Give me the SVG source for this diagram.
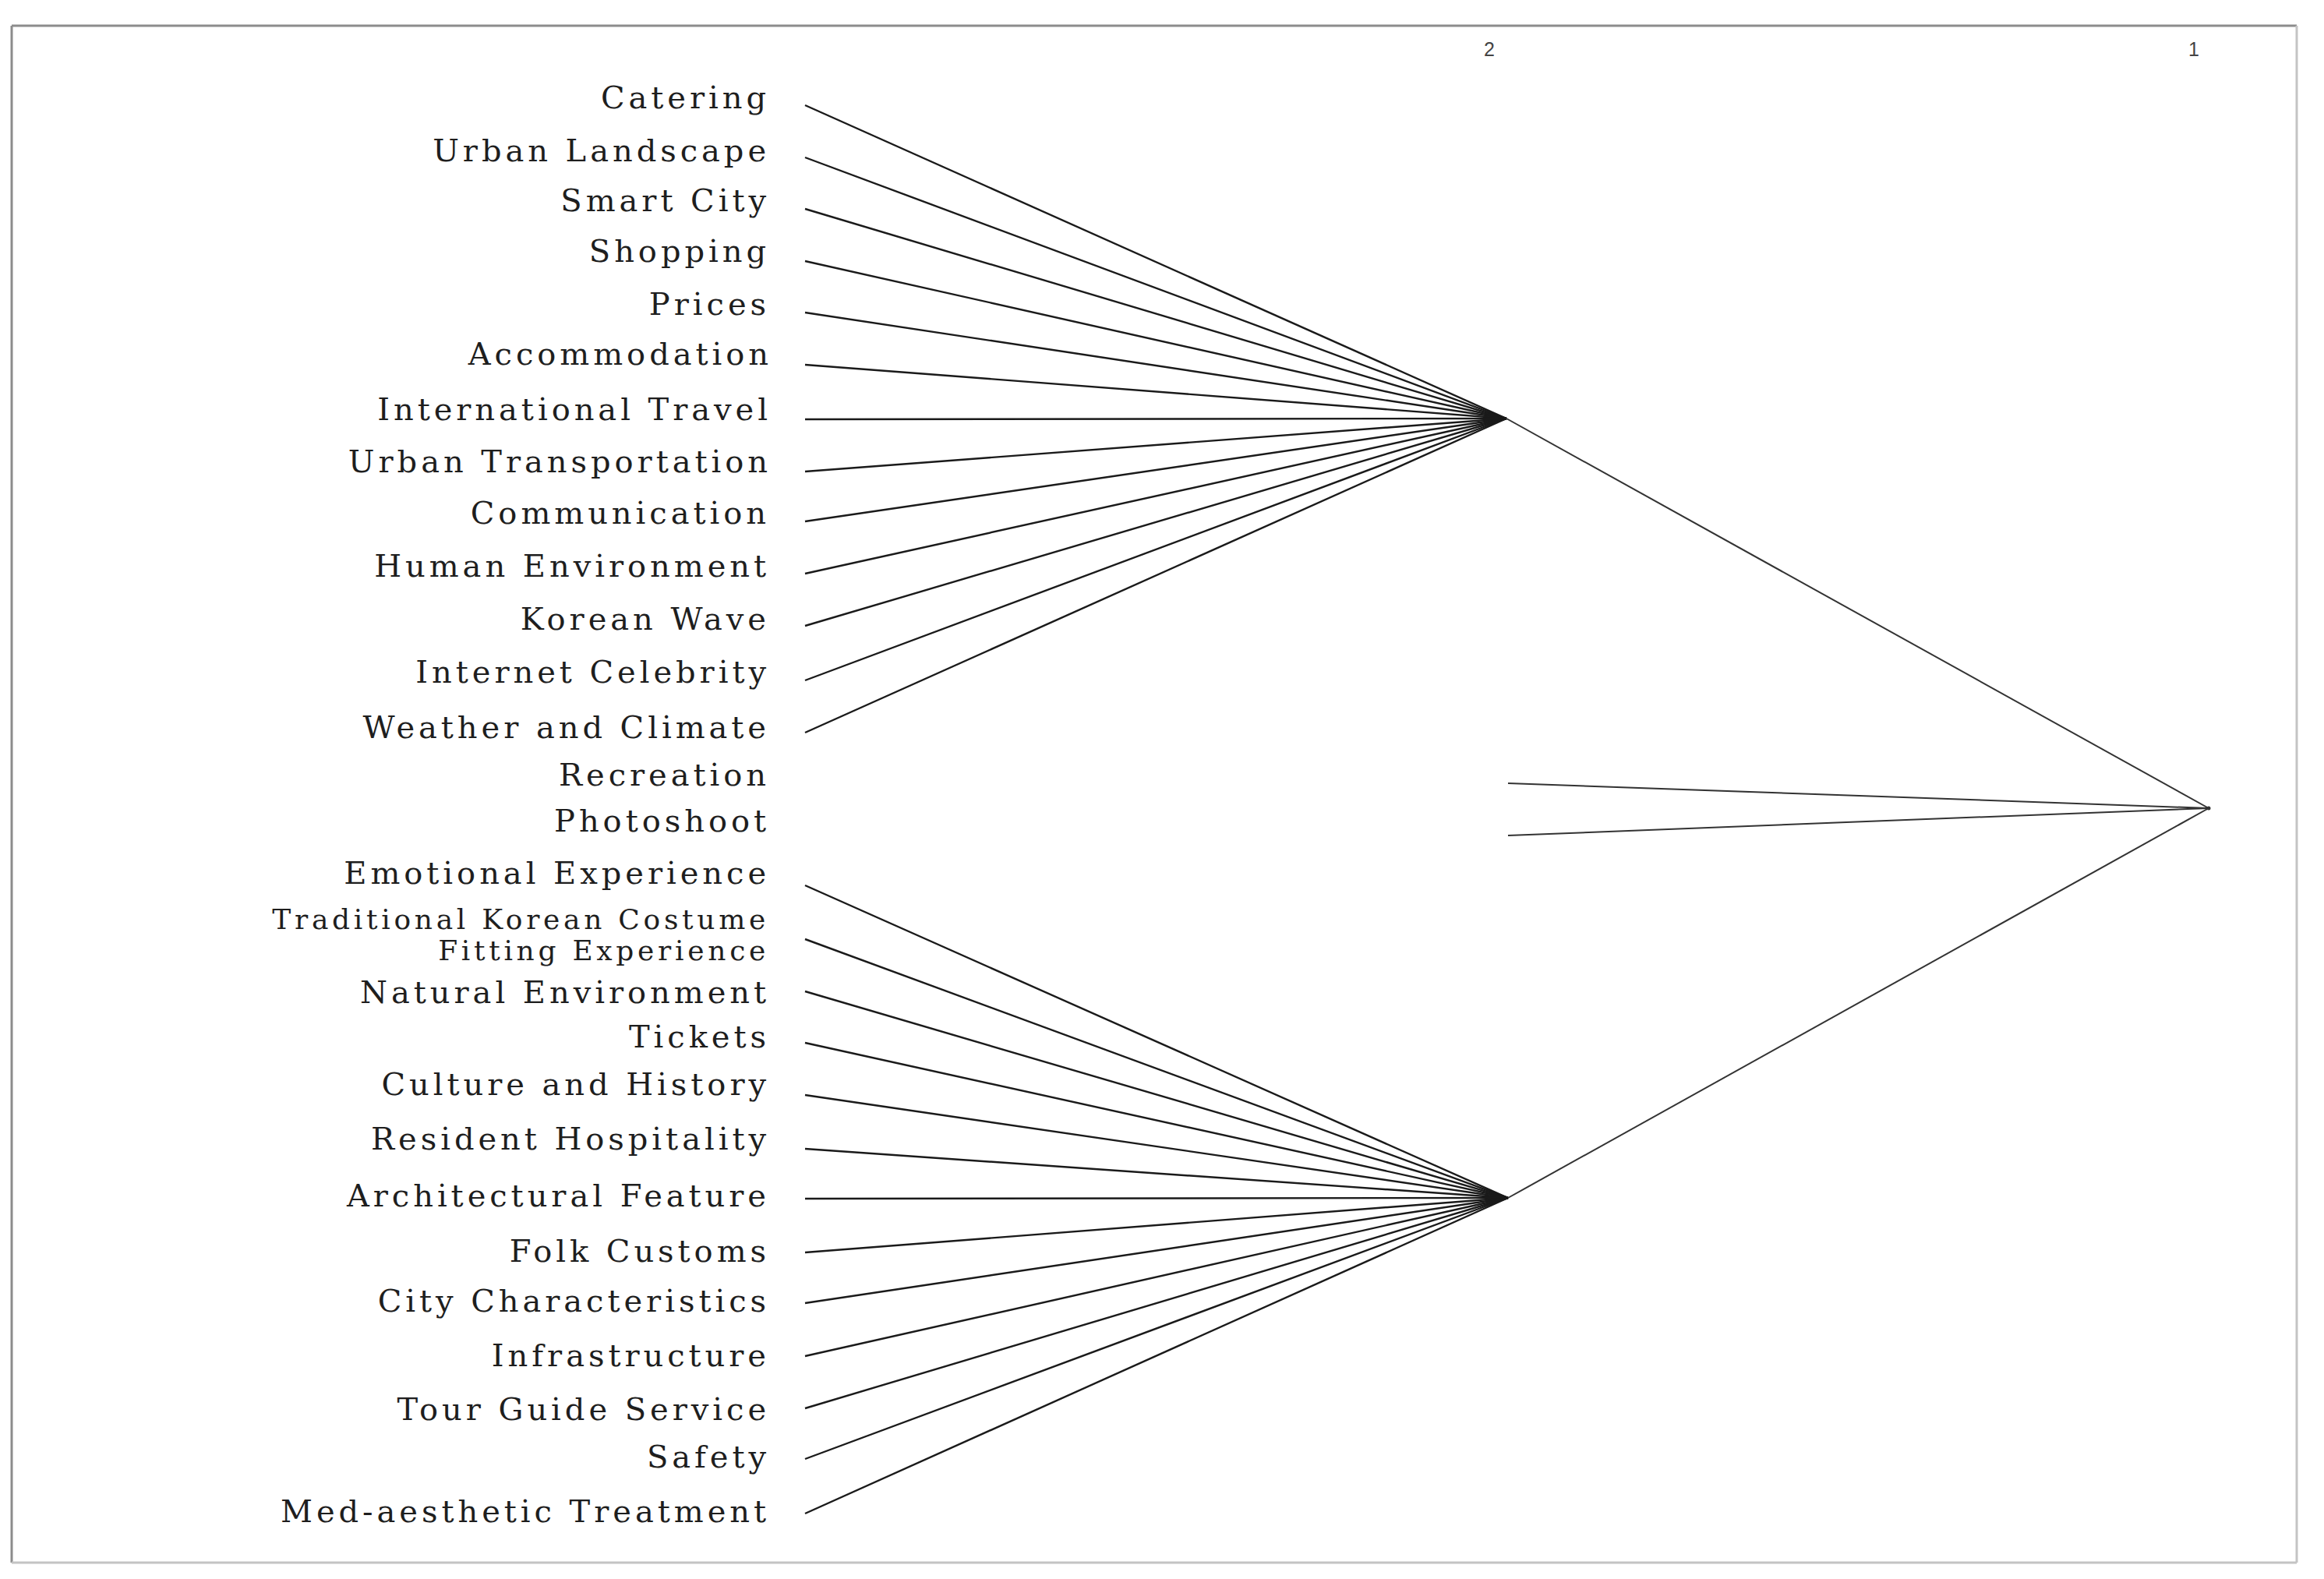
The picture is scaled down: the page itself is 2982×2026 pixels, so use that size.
<svg xmlns="http://www.w3.org/2000/svg" width="2982" height="2026" viewBox="0 0 2982 2026">
<style>
.lbl{font-family:"DejaVu Serif","Liberation Serif",serif;font-size:40px;letter-spacing:4.95px;fill:#1e1e1e;text-anchor:end}
.sm{font-size:36px;letter-spacing:4.7px}
.num{font-family:"Liberation Sans",Arial,sans-serif;font-size:25px;fill:#444;text-anchor:middle}
.leaf{stroke:#1a1a1a;stroke-width:2.4;fill:none}
.trunk{stroke:#333;stroke-width:2;fill:none}
</style>
<rect width="2982" height="2026" fill="#fff"/>
<g id="frame">
<line x1="15" y1="33" x2="2947" y2="33" stroke="#8c8c8c" stroke-width="3"/>
<line x1="15" y1="33" x2="15" y2="2005" stroke="#8c8c8c" stroke-width="3"/>
<line x1="2947" y1="33" x2="2947" y2="2005" stroke="#c4c4c4" stroke-width="3"/>
<line x1="15" y1="2005" x2="2947" y2="2005" stroke="#c4c4c4" stroke-width="3"/>
</g>
<g id="axis">
<text class="num" x="1911" y="72">2</text>
<text class="num" x="2815" y="72">1</text>
</g>
<g id="connectors">
<g class="leaf">
<line x1="1033" y1="135" x2="1933" y2="537"/>
<line x1="1033" y1="202" x2="1933" y2="537"/>
<line x1="1033" y1="268" x2="1933" y2="537"/>
<line x1="1033" y1="335" x2="1933" y2="537"/>
<line x1="1033" y1="401" x2="1933" y2="537"/>
<line x1="1033" y1="468" x2="1933" y2="537"/>
<line x1="1033" y1="538" x2="1933" y2="537"/>
<line x1="1033" y1="605" x2="1933" y2="537"/>
<line x1="1033" y1="669" x2="1933" y2="537"/>
<line x1="1033" y1="736" x2="1933" y2="537"/>
<line x1="1033" y1="803" x2="1933" y2="537"/>
<line x1="1033" y1="873" x2="1933" y2="537"/>
<line x1="1033" y1="940" x2="1933" y2="537"/>
<line x1="1033" y1="1136" x2="1935" y2="1537"/>
<line x1="1033" y1="1205" x2="1935" y2="1537"/>
<line x1="1033" y1="1272" x2="1935" y2="1537"/>
<line x1="1033" y1="1338" x2="1935" y2="1537"/>
<line x1="1033" y1="1405" x2="1935" y2="1537"/>
<line x1="1033" y1="1474" x2="1935" y2="1537"/>
<line x1="1033" y1="1538" x2="1935" y2="1537"/>
<line x1="1033" y1="1607" x2="1935" y2="1537"/>
<line x1="1033" y1="1672" x2="1935" y2="1537"/>
<line x1="1033" y1="1740" x2="1935" y2="1537"/>
<line x1="1033" y1="1807" x2="1935" y2="1537"/>
<line x1="1033" y1="1872" x2="1935" y2="1537"/>
<line x1="1033" y1="1942" x2="1935" y2="1537"/>
</g>
<g class="trunk">
<line x1="1933" y1="537" x2="2834" y2="1037"/>
<line x1="1935" y1="1537" x2="2834" y2="1037"/>
<line x1="1935" y1="1005" x2="2834" y2="1037"/>
<line x1="1935" y1="1072" x2="2834" y2="1037"/>
</g>
</g>
<g id="node-cluster-a"><circle cx="1933" cy="537" r="0.1" fill="none"/></g>
<g id="node-cluster-b"><circle cx="1935" cy="1537" r="0.1" fill="none"/></g>
<g id="node-root"><circle cx="2834" cy="1037" r="2.5" fill="#333"/></g>
<g id="n-catering"><text class="lbl" x="988" y="139">Catering</text></g>
<g id="n-urban-landscape"><text class="lbl" x="988" y="207">Urban Landscape</text></g>
<g id="n-smart-city"><text class="lbl" x="988" y="271">Smart City</text></g>
<g id="n-shopping"><text class="lbl" x="988" y="336">Shopping</text></g>
<g id="n-prices"><text class="lbl" x="988" y="404">Prices</text></g>
<g id="n-accommodation"><text class="lbl" x="991" y="468">Accommodation</text></g>
<g id="n-international-travel"><text class="lbl" x="990" y="539">International Travel</text></g>
<g id="n-urban-transportation"><text class="lbl" x="990" y="606">Urban Transportation</text></g>
<g id="n-communication"><text class="lbl" x="988" y="672">Communication</text></g>
<g id="n-human-environment"><text class="lbl" x="988" y="740">Human Environment</text></g>
<g id="n-korean-wave"><text class="lbl" x="988" y="808">Korean Wave</text></g>
<g id="n-internet-celebrity"><text class="lbl" x="988" y="876">Internet Celebrity</text></g>
<g id="n-weather-climate"><text class="lbl" x="988" y="947">Weather and Climate</text></g>
<g id="n-recreation"><text class="lbl" x="988" y="1008">Recreation</text></g>
<g id="n-photoshoot"><text class="lbl" x="988" y="1067">Photoshoot</text></g>
<g id="n-emotional-experience"><text class="lbl" x="988" y="1134">Emotional Experience</text></g>
<g id="n-traditional-costume"><text class="lbl sm" x="987" y="1192">Traditional Korean Costume</text><text class="lbl sm" x="987" y="1232">Fitting Experience</text></g>
<g id="n-natural-environment"><text class="lbl" x="988" y="1287">Natural Environment</text></g>
<g id="n-tickets"><text class="lbl" x="988" y="1344">Tickets</text></g>
<g id="n-culture-history"><text class="lbl" x="988" y="1405">Culture and History</text></g>
<g id="n-resident-hospitality"><text class="lbl" x="988" y="1475">Resident Hospitality</text></g>
<g id="n-architectural-feature"><text class="lbl" x="988" y="1548">Architectural Feature</text></g>
<g id="n-folk-customs"><text class="lbl" x="988" y="1619">Folk Customs</text></g>
<g id="n-city-characteristics"><text class="lbl" x="988" y="1683">City Characteristics</text></g>
<g id="n-infrastructure"><text class="lbl" x="988" y="1753">Infrastructure</text></g>
<g id="n-tour-guide"><text class="lbl" x="988" y="1822">Tour Guide Service</text></g>
<g id="n-safety"><text class="lbl" x="988" y="1883">Safety</text></g>
<g id="n-med-aesthetic"><text class="lbl" x="988" y="1953">Med-aesthetic Treatment</text></g>
</svg>
